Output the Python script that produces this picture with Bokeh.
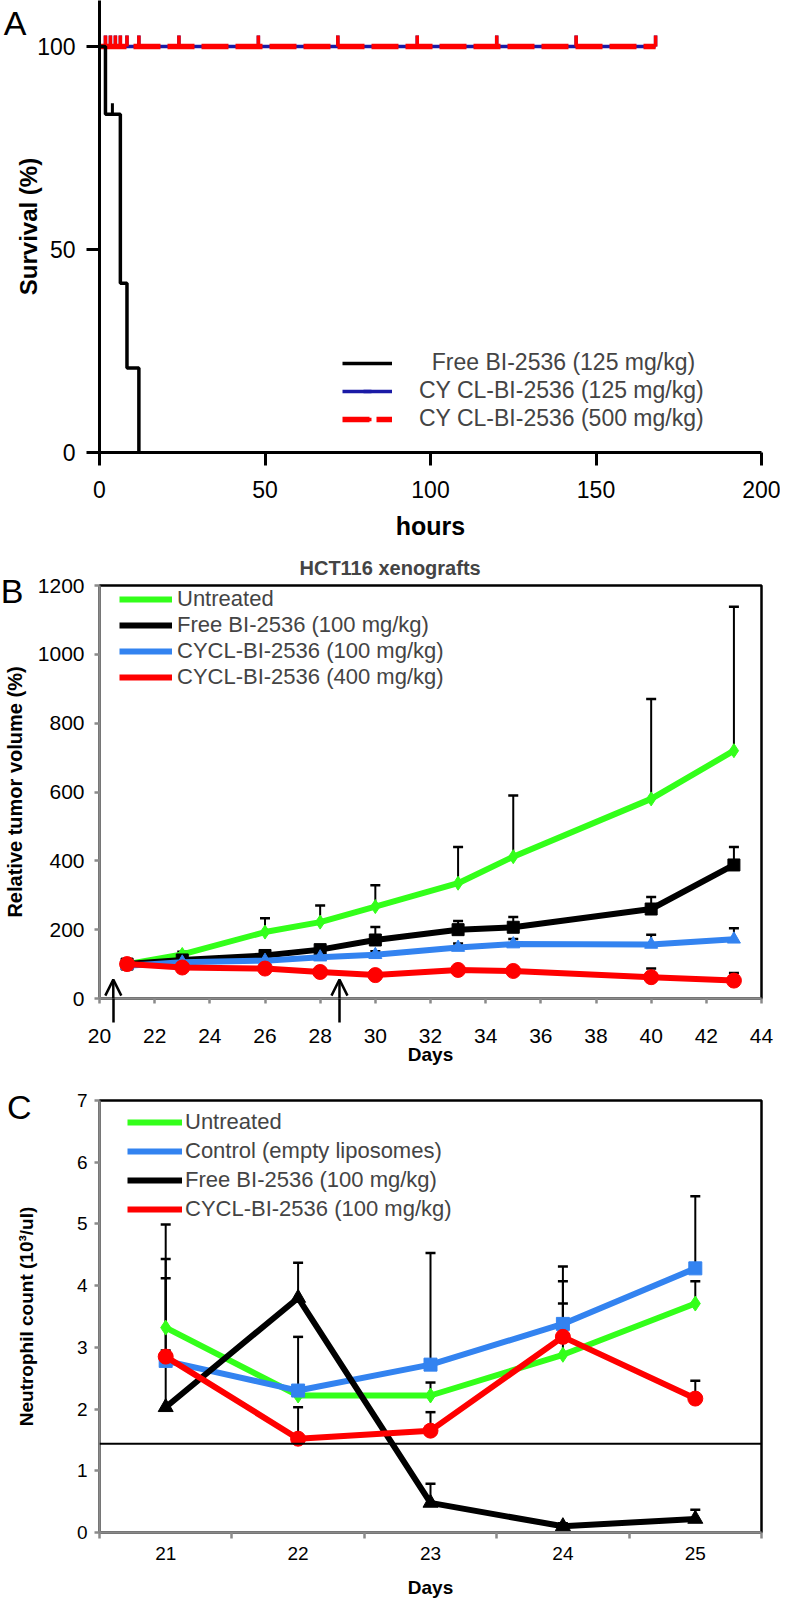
import numpy as np
from bokeh.plotting import figure
from bokeh.models import (Range1d, FixedTicker, Legend, LegendItem, Whisker, TeeHead, Arrow,
                          OpenHead, ColumnDataSource, Span, LinearAxis, CustomJSTickFormatter)
from bokeh.layouts import column
from bokeh.embed import file_html
from bokeh.resources import INLINE

FONT = "Liberation Sans"

# ---------------- Panel A : survival ----------------
free_t = [0, 1.8, 6.3, 8.3, 11.9]
free_s = [100, 83.3, 41.7, 20.8, 0]
free_cens_t = [3.9]
free_cens_s = [83.3]
cycl125_t = [0, 168]
cycl125_s = [100, 100]
cycl500_t = [0, 168]
cycl500_s = [100, 100]
cycl_cens_t = [1.8, 3.3, 4.8, 6.3, 8.3, 11.9, 24, 48, 72, 96, 120, 144, 168]
cycl_cens_s = [100] * len(cycl_cens_t)
A_xticks = [0, 50, 100, 150, 200]
A_yticks = [0, 50, 100]
A_labels = ["  Free BI-2536 (125 mg/kg)", "CY CL-BI-2536 (125 mg/kg)", "CY CL-BI-2536 (500 mg/kg)"]

# ---------------- Panel B : tumor volume ----------------
days_B = [21, 23, 26, 28, 30, 33, 35, 40, 43]
untreated_B = [100, 128, 193, 222, 267, 335, 412, 580, 720]
untreated_B_err = [0, 8, 40, 48, 62, 105, 178, 290, 418]
free_B = [100, 112, 125, 142, 170, 200, 207, 260, 388]
free_B_err = [0, 10, 10, 12, 38, 25, 30, 35, 52]
cycl100_B = [95, 105, 110, 120, 127, 148, 158, 157, 172]
cycl100_B_err = [0, 5, 5, 8, 10, 12, 15, 28, 32]
cycl400_B = [100, 90, 87, 77, 68, 83, 80, 62, 52]
cycl400_B_err = [0, 5, 5, 5, 8, 10, 10, 25, 22]
arrow_days_B = [20.5, 28.7]
B_xticks = [20, 22, 24, 26, 28, 30, 32, 34, 36, 38, 40, 42, 44]
B_yticks = [0, 200, 400, 600, 800, 1000, 1200]
B_labels = ["Untreated", "Free BI-2536 (100 mg/kg)", "CYCL-BI-2536 (100 mg/kg)", "CYCL-BI-2536 (400 mg/kg)"]

# ---------------- Panel C : neutrophils ----------------
days_C = [21, 22, 23, 24, 25]
untreated_C = [3.32, 2.22, 2.22, 2.88, 3.71]
untreated_C_err = [1.11, 0.05, 0.21, 0.83, 0.36]
control_C = [2.78, 2.30, 2.72, 3.38, 4.28]
control_C_err = [1.34, 0.87, 1.81, 0.93, 1.17]
free_C = [2.03, 3.80, 0.48, 0.10, 0.22]
free_C_err = [2.96, 0.57, 0.31, 0.05, 0.15]
cycl_C = [2.85, 1.52, 1.65, 3.17, 2.17]
cycl_C_err = [0.10, 0.51, 0.30, 0.90, 0.29]
threshold_C = 1.44
C_xticks = [21, 22, 23, 24, 25]
C_xminor = [20.5, 21.5, 22.5, 23.5, 24.5, 25.5]
C_yticks = [0, 1, 2, 3, 4, 5, 6, 7]
C_labels = ["Untreated", "Control (empty liposomes)", "Free BI-2536 (100 mg/kg)", "CYCL-BI-2536 (100 mg/kg)"]

GREEN = "#33ff1a"
BLUE = "#3383f0"
RED = "#ff0000"
GREY = "#8a8a8a"


def style_axis(ax, color, lw, tick_out, label_size, axis_label_size):
    ax.axis_line_color = color
    ax.axis_line_width = lw
    ax.major_tick_line_color = color
    ax.major_tick_line_width = lw
    ax.major_tick_out = tick_out
    ax.major_tick_in = 0
    ax.minor_tick_line_color = None
    ax.major_label_text_font = FONT
    ax.major_label_text_font_size = label_size
    ax.major_label_text_color = "black"
    ax.axis_label_text_font = FONT
    ax.axis_label_text_font_style = "bold"
    ax.axis_label_text_color = "black"
    ax.axis_label_text_font_size = axis_label_size


def letter_axis(p, letter, yval, standoff, label, label_standoff, label_size):
    """Outer left axis carrying the panel letter (as its single tick label) and the y title."""
    ax = LinearAxis(ticker=FixedTicker(ticks=[yval]),
                    formatter=CustomJSTickFormatter(code="return '%s';" % letter),
                    axis_line_color=None, major_tick_line_color=None, minor_tick_line_color=None,
                    major_tick_out=0, major_tick_in=0, major_label_standoff=standoff,
                    major_label_text_font=FONT, major_label_text_font_size="34px",
                    major_label_text_color="black",
                    axis_label=label, axis_label_standoff=label_standoff,
                    axis_label_text_font=FONT, axis_label_text_font_style="bold",
                    axis_label_text_font_size=label_size, axis_label_text_color="black")
    p.add_layout(ax, "left")


def whiskers(p, xs, ys, errs):
    src = ColumnDataSource(dict(x=xs, y=ys, top=[v + e for v, e in zip(ys, errs)]))
    w = Whisker(base="x", lower="y", upper="top", source=src, dimension="height",
                line_color="black", line_width=2,
                upper_head=TeeHead(size=10, line_width=2.5, line_color="black"),
                lower_head=None, level="underlay")
    p.add_layout(w)


# ================= Figure A =================
pA = figure(width=780, height=548, x_range=Range1d(0, 200), y_range=Range1d(0, 111.33),
            output_backend="svg", toolbar_location=None,
            min_border_left=89, min_border_right=19, min_border_top=0, min_border_bottom=96)
pA.outline_line_color = None
pA.grid.visible = False
xA, yA = pA.xaxis[0], pA.yaxis[0]
style_axis(xA, "black", 3, 13, "23px", "25px")
style_axis(yA, "black", 3, 13, "23px", "24px")
xA.ticker = FixedTicker(ticks=A_xticks)
yA.ticker = FixedTicker(ticks=A_yticks)
xA.axis_label = "hours"
xA.major_label_standoff = 15
xA.axis_label_standoff = 11
yA.major_label_standoff = 11
letter_axis(pA, "A", 105.8, 8, "Survival (%)", -41, "24px")

tick_h = 2.7  # censor tick height in data units
r_blue = pA.line(cycl125_t, cycl125_s, line_color="#1a1aa6", line_width=3.5)
r_blue_c = pA.scatter(cycl_cens_t, [s + tick_h / 2 for s in cycl_cens_s], marker="dash",
                      angle=np.pi / 2, size=11, line_color="#1a1aa6", line_width=3.5)
r_red = pA.line(cycl500_t, cycl500_s, line_color=RED, line_width=5.5, line_dash="27 7")
r_red_c = pA.scatter(cycl_cens_t, [s + tick_h / 2 for s in cycl_cens_s], marker="dash",
                     angle=np.pi / 2, size=11, line_color=RED, line_width=3.5)
r_free = pA.step(free_t, free_s, mode="after", line_color="black", line_width=3.5)
r_free_c = pA.scatter(free_cens_t, [s + tick_h / 2 for s in free_cens_s], marker="dash",
                      angle=np.pi / 2, size=11, line_color="black", line_width=3)

legA = Legend(items=[LegendItem(label=A_labels[0], renderers=[r_free, r_free_c]),
                     LegendItem(label=A_labels[1], renderers=[r_blue, r_blue_c]),
                     LegendItem(label=A_labels[2], renderers=[r_red, r_red_c])],
              location=(243, 20), padding=0, margin=0, spacing=1,
              glyph_width=50, glyph_height=20, label_height=20, label_standoff=27,
              label_text_font=FONT, label_text_font_size="23px",
              border_line_color=None, background_fill_alpha=0)
pA.add_layout(legA)

# ================= Figure B =================
pB = figure(width=780, height=520, x_range=Range1d(20, 44), y_range=Range1d(0, 1200),
            output_backend="svg", toolbar_location=None,
            min_border_left=90, min_border_right=6, min_border_top=37, min_border_bottom=70)
pB.grid.visible = False
pB.outline_line_color = "black"
pB.outline_line_width = 2.5
xB, yB = pB.xaxis[0], pB.yaxis[0]
style_axis(xB, GREY, 2.5, 5, "21px", "19px")
style_axis(yB, GREY, 2.5, 5, "21px", "20px")
# the dosing arrows continue below the axis as long black minor ticks
xB.ticker = FixedTicker(ticks=B_xticks, minor_ticks=arrow_days_B)
xB.minor_tick_line_color = "black"
xB.minor_tick_line_width = 2.5
xB.minor_tick_out = 24
xB.minor_tick_in = 0
yB.ticker = FixedTicker(ticks=B_yticks)
xB.axis_label = "Days"
xB.major_label_standoff = 6
xB.axis_label_standoff = -2
yB.major_label_standoff = 10
letter_axis(pB, "B", 1185, 11, "Relative tumor volume (%)", -28, "20px")
pB.title.text = "HCT116 xenografts"
pB.title.align = "left"
pB.title.offset = 200
pB.title.text_font = FONT
pB.title.text_font_size = "20px"
pB.title.text_font_style = "bold"
pB.title.standoff = 13

for ys, es in ((untreated_B, untreated_B_err), (free_B, free_B_err),
               (cycl100_B, cycl100_B_err), (cycl400_B, cycl400_B_err)):
    whiskers(pB, days_B, ys, es)

gl = pB.line(days_B, untreated_B, line_color=GREEN, line_width=6)
gs = pB.scatter(days_B, untreated_B, marker="diamond", size=14, color=GREEN)
kl = pB.line(days_B, free_B, line_color="black", line_width=6)
ks = pB.scatter(days_B, free_B, marker="square", size=12, color="black")
bl = pB.line(days_B, cycl100_B, line_color=BLUE, line_width=6)
bs = pB.scatter(days_B, cycl100_B, marker="triangle", size=13, color=BLUE)
rl = pB.line(days_B, cycl400_B, line_color=RED, line_width=6)
rs = pB.scatter(days_B, cycl400_B, marker="circle", size=15, color=RED)

for d in arrow_days_B:
    pB.add_layout(Arrow(end=OpenHead(size=16, line_width=2.5, line_color="black"),
                        x_start=d, y_start=0, x_end=d, y_end=55,
                        line_width=2.5, line_color="black"))

legB = Legend(items=[LegendItem(label=B_labels[0], renderers=[gl]),
                     LegendItem(label=B_labels[1], renderers=[kl]),
                     LegendItem(label=B_labels[2], renderers=[bl]),
                     LegendItem(label=B_labels[3], renderers=[rl])],
              location=(20, 308), padding=0, margin=0, spacing=0,
              glyph_width=53, glyph_height=20, label_height=20, label_standoff=5,
              label_text_font=FONT, label_text_font_size="22px",
              border_line_color=None, background_fill_alpha=0)
pB.add_layout(legB)

# ================= Figure C =================
pC = figure(width=780, height=532, x_range=Range1d(20.5, 25.5), y_range=Range1d(0, 7),
            output_backend="svg", toolbar_location=None,
            min_border_left=84, min_border_right=6, min_border_top=32, min_border_bottom=68)
pC.grid.visible = False
pC.outline_line_color = "black"
pC.outline_line_width = 2.5
xC, yC = pC.xaxis[0], pC.yaxis[0]
style_axis(xC, GREY, 2.5, 5, "19px", "19px")
style_axis(yC, GREY, 2.5, 5, "19px", "19px")
xC.ticker = FixedTicker(ticks=C_xticks, minor_ticks=C_xminor)
xC.major_tick_out = 0
xC.minor_tick_line_color = GREY
xC.minor_tick_line_width = 2.5
xC.minor_tick_out = 6
xC.minor_tick_in = 0
yC.ticker = FixedTicker(ticks=C_yticks)
xC.axis_label = "Days"
xC.major_label_standoff = 8
xC.axis_label_standoff = 14
yC.major_label_standoff = 7
letter_axis(pC, "C", 6.895, 42, "Neutrophil count (10³/ul)", -33, "19px")

pC.add_layout(Span(location=threshold_C, dimension="width", line_color="black", line_width=2))

for ys, es in ((untreated_C, untreated_C_err), (control_C, control_C_err),
               (free_C, free_C_err), (cycl_C, cycl_C_err)):
    whiskers(pC, days_C, ys, es)

cg_l = pC.line(days_C, untreated_C, line_color=GREEN, line_width=6)
cg_s = pC.scatter(days_C, untreated_C, marker="diamond", size=15, color=GREEN)
cb_l = pC.line(days_C, control_C, line_color=BLUE, line_width=6)
cb_s = pC.scatter(days_C, control_C, marker="square", size=13, color=BLUE)
ck_l = pC.line(days_C, free_C, line_color="black", line_width=6)
ck_s = pC.scatter(days_C, free_C, marker="triangle", size=15, color="black")
cr_l = pC.line(days_C, cycl_C, line_color=RED, line_width=6)
cr_s = pC.scatter(days_C, cycl_C, marker="circle", size=15, color=RED)

legC = Legend(items=[LegendItem(label=C_labels[0], renderers=[cg_l]),
                     LegendItem(label=C_labels[1], renderers=[cb_l]),
                     LegendItem(label=C_labels[2], renderers=[ck_l]),
                     LegendItem(label=C_labels[3], renderers=[cr_l])],
              location=(28, 310), padding=0, margin=0, spacing=3,
              glyph_width=55, glyph_height=20, label_height=20, label_standoff=3,
              label_text_font=FONT, label_text_font_size="22px",
              border_line_color=None, background_fill_alpha=0)
pC.add_layout(legC)

layout = column(pA, pB, pC)
open("out.html", "w").write(file_html(layout, INLINE))
